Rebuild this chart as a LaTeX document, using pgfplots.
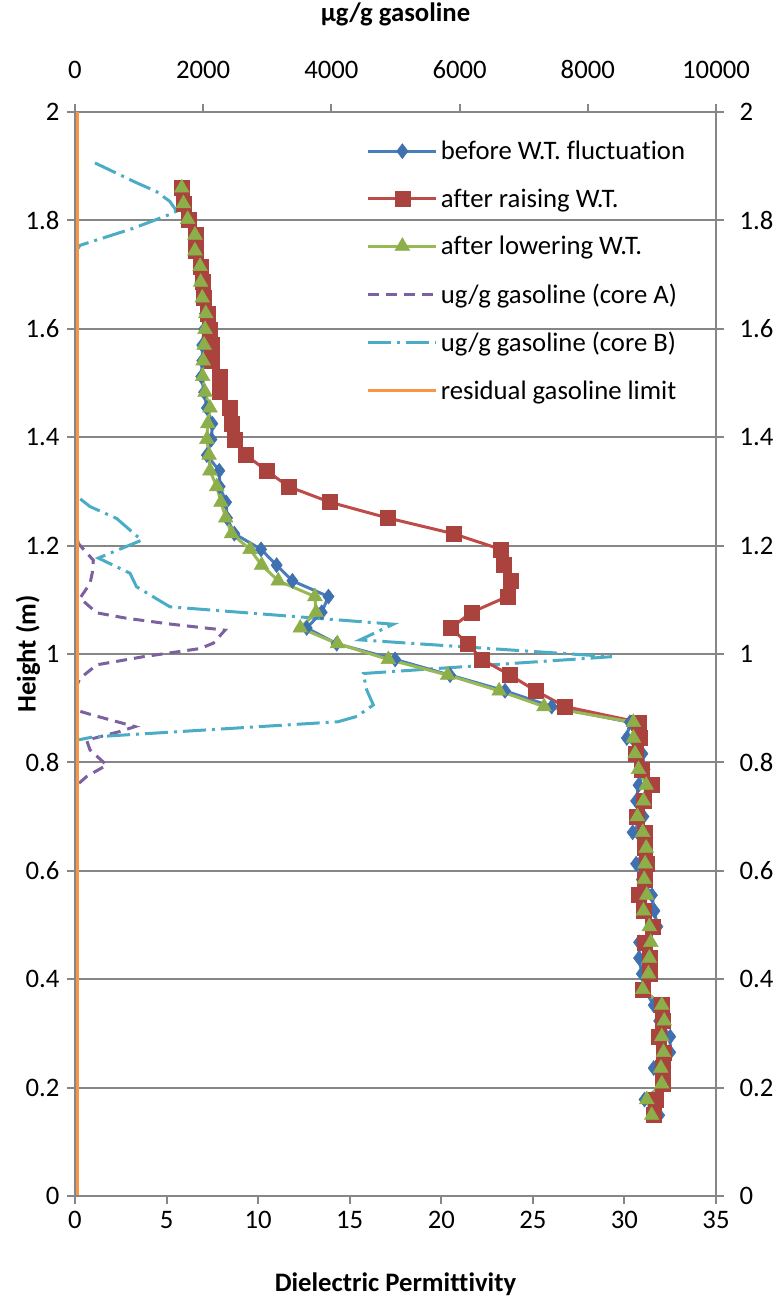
\documentclass[border=0pt]{standalone}
\usepackage{pgfplots}
\pgfplotsset{compat=1.18}
\usepackage{pgfplotstable}
\usepackage{fontspec}
\setmainfont{Carlito}[Ligatures=NoCommon]

\definecolor{gridgray}{HTML}{868686}
\definecolor{serBlue}{HTML}{4A7EBB}
\definecolor{mkBlue}{HTML}{3F70AF}
\definecolor{serRed}{HTML}{BE4B48}
\definecolor{mkRed}{HTML}{AA423E}
\definecolor{serGreen}{HTML}{98B954}
\definecolor{mkGreen}{HTML}{8CAF4A}
\definecolor{coreA}{HTML}{7D60A0}
\definecolor{coreB}{HTML}{4BACC6}
\definecolor{resid}{HTML}{F79646}

\newcommand\chartfont{\fontsize{26.7}{32}\selectfont}

% dielectric permittivity profiles (height in m)
\pgfplotstableread{
h     before raising lowering
1.860 5.80  5.83  5.83
1.831 5.90  5.95  5.92
1.802 6.15  6.20  6.15
1.773 6.50  6.60  6.55
1.744 6.60  6.62  6.55
1.715 6.80  6.88  6.83
1.686 6.85  6.95  6.86
1.657 6.95  7.02  6.95
1.628 7.10  7.26  7.14
1.599 7.05  7.37  7.10
1.570 6.95  7.46  7.05
1.541 6.95  7.46  7.00
1.512 6.90  7.88  6.97
1.483 7.05  7.88  7.10
1.454 7.20  8.46  7.37
1.425 7.50  8.55  7.25
1.396 7.45  8.70  7.20
1.367 7.20  9.33  7.32
1.338 7.88  10.47 7.37
1.309 7.90  11.65 7.74
1.280 8.25  13.93 7.97
1.251 8.30  17.08 8.23
1.222 8.70  20.66 8.55
1.193 10.16 23.25 9.56
1.164 11.01 23.39 10.19
1.135 11.87 23.81 11.10
1.106 13.84 23.61 13.10
1.077 13.47 21.66 13.16
1.048 12.65 20.52 12.30
1.019 14.29 21.45 14.33
0.990 17.48 22.21 17.11
0.961 20.48 23.76 20.35
0.932 23.48 25.16 23.16
0.903 26.03 26.76 25.61
0.874 30.30 30.80 30.49
0.845 30.13 30.82 30.49
0.816 30.98 30.64 30.58
0.787 31.10 30.95 30.77
0.758 30.77 31.50 31.19
0.729 30.64 31.04 31.04
0.700 31.04 30.67 30.71
0.671 30.45 31.10 31.00
0.642 31.20 31.10 31.19
0.613 30.64 31.22 31.13
0.584 30.95 31.10 31.08
0.555 31.50 30.77 31.22
0.526 31.64 31.04 31.04
0.497 31.80 31.55 31.36
0.468 30.80 31.10 31.44
0.439 30.80 31.40 31.36
0.410 30.95 31.40 31.31
0.381 31.10 31.00 31.00
0.352 31.60 32.04 32.04
0.323 31.90 32.10 32.17
0.294 32.50 31.90 32.04
0.265 32.50 32.13 32.13
0.236 31.60 32.10 31.99
0.207 32.10 32.10 32.04
0.178 31.10 31.70 31.22
0.149 31.90 31.60 31.49
}\permittivity

% gasoline concentration, core A (ug/g)
\pgfplotstableread{
h     ug
1.906 0
1.700 5
1.500 0
1.300 5
1.230 10
1.204 52
1.173 286
1.150 270
1.130 234
1.103 78
1.076 338
1.066 800
1.055 1500
1.044 2340
1.020 2158
1.010 1950
0.995 1066
0.980 338
0.955 78
0.945 40
0.920 0
0.897 0
0.887 286
0.866 936
0.857 700
0.841 182
0.823 234
0.795 494
0.774 182
0.755 0
0.650 0
}\coreAtab

% gasoline concentration, core B (ug/g)
\pgfplotstableread{
h     ug
1.906 312
1.870 950
1.853 1274
1.835 1480
1.817 1586
1.810 1456
1.785 900
1.754 78
1.740 0
1.300 0
1.291 30
1.272 234
1.250 650
1.210 1040
1.177 364
1.149 858
1.124 960
1.087 1482
1.055 4966
1.026 4446
0.995 8373
0.964 4498
0.934 4550
0.906 4654
0.885 4400
0.875 4103
0.847 286
0.841 26
0.820 0
0.650 0
}\coreBtab

% residual gasoline limit (ug/g)
\pgfplotstableread{
h   ug
0   40
2   40
}\residtab

\begin{document}
\begin{tikzpicture}
% secondary axis: concentration (top) and duplicated height scale (right)
\begin{axis}[
  at={(0pt,0pt)}, anchor=south west,
  scale only axis, width=641pt, height=1084pt,
  xmin=0, xmax=10000, ymin=0, ymax=2,
  scaled x ticks=false, scaled y ticks=false,
  axis x line*=top, axis y line*=right,
  axis line style={gridgray, line width=2pt, -},
  xtick={0,2000,4000,6000,8000,10000},
  xticklabels={0,2000,4000,6000,8000,10000},
  ytick={0,0.2,0.4,0.6,0.8,1,1.2,1.4,1.6,1.8,2},
  yticklabels={0,0.2,0.4,0.6,0.8,1,1.2,1.4,1.6,1.8,2},
  ymajorgrids, grid style={gridgray, line width=2pt},
  tick align=outside, major tick length=8pt,
  tick style={gridgray, line width=2pt},
  tick label style={font=\chartfont, black},
  xticklabel style={anchor=south, yshift=22pt},
  yticklabel style={anchor=west, xshift=12pt},
  xlabel={\bfseries µg/g gasoline},
  xlabel style={font=\chartfont, at={(axis description cs:0.5,1.0904)}, anchor=center},
]
\addplot[coreA, line width=3pt, dash pattern=on 11pt off 7pt] table[x=ug, y=h] {\coreAtab};
\addplot[coreB, line width=3pt, dash pattern=on 23pt off 6pt on 3pt off 6pt] table[x=ug, y=h] {\coreBtab};
\addplot[resid, line width=2.5pt] table[x=ug, y=h] {\residtab};
\end{axis}

% primary axis: dielectric permittivity (bottom) vs height (left)
\begin{axis}[
  at={(0pt,0pt)}, anchor=south west,
  scale only axis, width=641pt, height=1084pt,
  xmin=0, xmax=35, ymin=0, ymax=2,
  axis x line*=bottom, axis y line*=left,
  axis line style={gridgray, line width=2pt, -},
  xtick={0,5,10,15,20,25,30,35},
  xticklabels={0,5,10,15,20,25,30,35},
  ytick={0,0.2,0.4,0.6,0.8,1,1.2,1.4,1.6,1.8,2},
  yticklabels={0,0.2,0.4,0.6,0.8,1,1.2,1.4,1.6,1.8,2},
  tick align=outside, major tick length=8pt,
  tick style={gridgray, line width=2pt},
  tick label style={font=\chartfont, black},
  xticklabel style={anchor=north, yshift=-4pt},
  yticklabel style={anchor=east, xshift=-4pt},
  xlabel={\bfseries Dielectric Permittivity},
  xlabel style={font=\chartfont, at={(axis description cs:0.5,-0.0812)}, anchor=center},
  ylabel={\bfseries Height (m)},
  ylabel style={font=\chartfont, at={(axis description cs:-0.0733,0.5)}, anchor=center, rotate=0},
  legend cell align=left,
  legend style={draw=none, fill=none, font=\chartfont,
    at={(axis description cs:0.455,0.9751)}, anchor=north west,
    inner sep=0pt, row sep=23.5pt, column sep=1pt},
  legend image code/.code={%
    \draw[mark repeat=2, mark phase=2, #1] plot coordinates {(0pt,0pt) (34pt,0pt) (68pt,0pt)};},
]
\addplot[serBlue, line width=3pt, mark=diamond*, mark size=7.5pt,
  mark options={fill=mkBlue, draw=mkBlue, line width=0.5pt, solid}]
  table[x=before, y=h] {\permittivity};
\addlegendentry{before W.T. fluctuation}
\addplot[serRed, line width=3pt, mark=square*, mark size=7.5pt,
  mark options={fill=mkRed, draw=mkRed, line width=0.5pt, solid}]
  table[x=raising, y=h] {\permittivity};
\addlegendentry{after raising W.T.}
\addplot[serGreen, line width=3pt, mark=triangle*, mark size=8.5pt,
  mark options={fill=mkGreen, draw=mkGreen, line width=0.5pt, solid}]
  table[x=lowering, y=h] {\permittivity};
\addlegendentry{after lowering W.T.}
\addlegendimage{coreA, line width=3pt, dash pattern=on 11pt off 7pt}
\addlegendentry{ug/g gasoline (core A)}
\addlegendimage{coreB, line width=3pt, dash pattern=on 23pt off 6pt on 3pt off 6pt}
\addlegendentry{ug/g gasoline (core B)}
\addlegendimage{resid, line width=2.5pt}
\addlegendentry{residual gasoline limit}
\end{axis}
\pgfresetboundingbox
\path[use as bounding box] (-75pt,-112pt) rectangle (702pt,1196pt);
\end{tikzpicture}
\end{document}
